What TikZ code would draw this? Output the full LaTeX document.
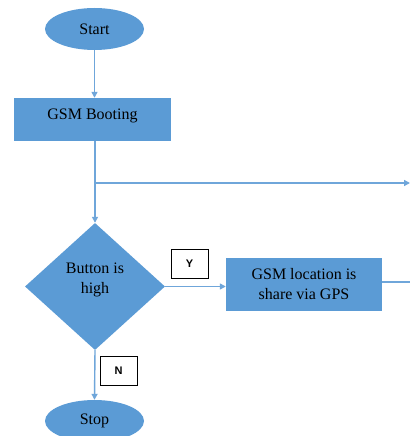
\documentclass[tikz,border=0pt]{standalone}
\usepackage{fontspec}
\setmainfont{Liberation Serif}
\newfontfamily\labelfont{Liberation Sans}
\usetikzlibrary{shapes.geometric,arrows.meta}

\definecolor{flowblue}{HTML}{5B9BD5}
\definecolor{lineblue}{HTML}{6FA6DA}

\tikzset{
  term/.style={ellipse, fill=flowblue, minimum width=99pt, minimum height=42pt,
    inner sep=0pt, font=\fontsize{16}{20}\selectfont},
  procbox/.style={rectangle, fill=flowblue, inner sep=0pt, align=center,
    font=\fontsize{16}{20}\selectfont},
  decision/.style={diamond, fill=flowblue, aspect=1.1, inner sep=0pt,
    minimum width=140pt, minimum height=127pt, align=center,
    font=\fontsize{16}{20}\selectfont},
  answer/.style={rectangle, draw=black, line width=1pt, fill=white,
    minimum width=37pt, minimum height=29pt, inner sep=0pt,
    font=\labelfont\bfseries\fontsize{11}{13}\selectfont},
  flow/.style={lineblue, line width=1.4pt},
  flowarrow/.style={flow, -{Triangle[length=6pt,width=6pt]}}
}

\begin{document}
\begin{tikzpicture}[x=1pt,y=-1pt]

\clip (0,0) rectangle (410,436);
\fill[white] (0,0) rectangle (410,436);

% Noeuds
\node[term] (start) at (94.5,29) {Start};

\node[procbox, minimum width=157pt, minimum height=43pt, text depth=11pt]
(boot) at (92.5,119.5)
{GSM Booting};

\node[decision, text depth=17pt] (button) at (95,286.5)
{Button is\\high};

\node[procbox, minimum width=156pt, minimum height=53pt]
(share) at (304,284.5)
{GSM location is\\share via GPS};

\node[term] (stop) at (94.5,421) {Stop};

% Reponses
\node[answer] (yes) at (189.5,263.5) {Y};
\node[answer] (no) at (118.5,370.5) {N};

% Liaisons
\coordinate (split) at (95,183);
\coordinate (right) at (410,183);
\coordinate (out) at (410,282);

\draw[flowarrow] (start.south) -- (start.south |- boot.north);

\draw[flow] (boot.south -| split) -- (split);

\draw[flowarrow] (split) -- (button.north);

\draw[flowarrow] (split) -- (right);

\draw[flowarrow] (button.east) -- (share.west |- button.east);

\draw[flow] (share.east |- out) -- (out);

\draw[flowarrow] (button.south) -- (stop.north);

\end{tikzpicture}
\end{document}
